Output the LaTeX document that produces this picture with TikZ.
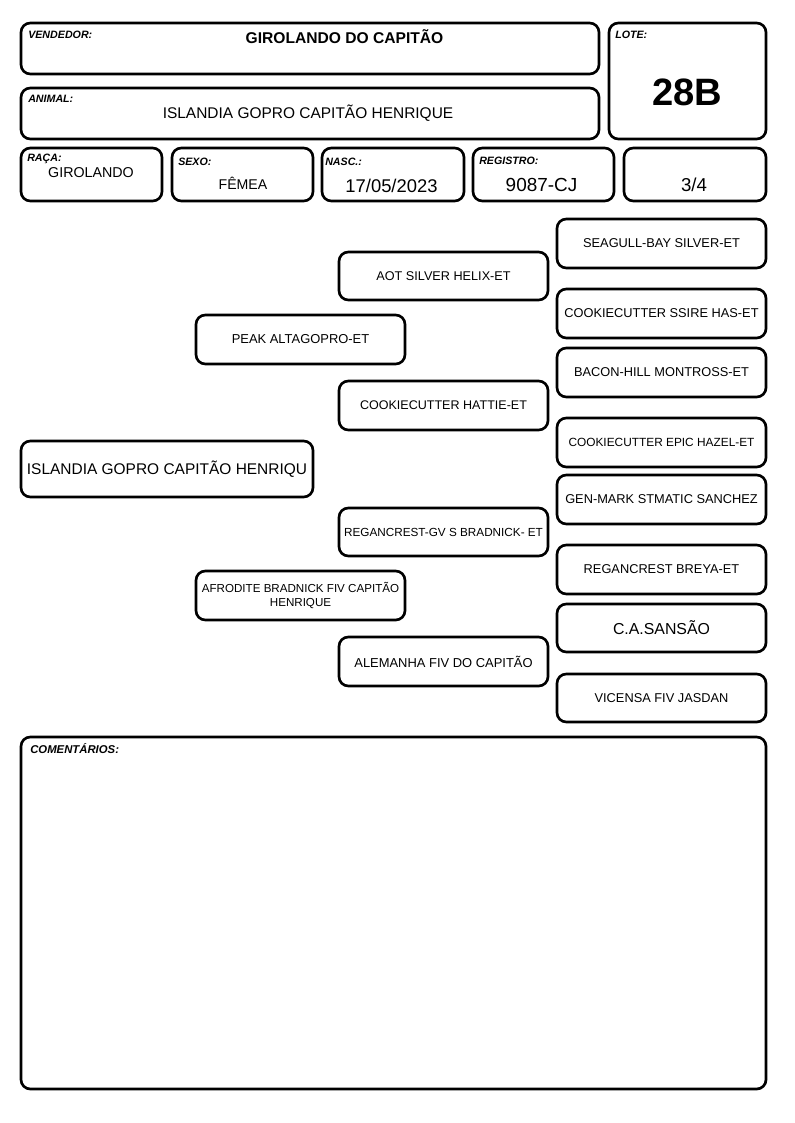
\documentclass[tikz,border=0pt]{standalone}
\usepackage{fontspec}
\setmainfont{Liberation Sans}
\begin{document}
\begin{tikzpicture}[x=0.75pt,y=-0.75pt,
  box/.style={draw=black, line width=2pt, rounded corners=7pt, inner sep=0pt, align=center},
  wh/.style 2 args={minimum width=#1*0.75pt, minimum height=#2*0.75pt},
  lbl/.style={font=\bfseries\itshape\fontsize{8}{9}\selectfont, inner sep=0pt, anchor=base west},
  val/.style={inner sep=0pt, anchor=base},
  ped/.style={font=\fontsize{9.6}{11}\selectfont}]
\useasboundingbox (0,0) rectangle (794,1123);
% header boxes
\node[box, wh={578}{51}] (vend) at (310,48.5) {};
\node[box, wh={578}{51}] (anim) at (310,113.5) {};
\node[box, wh={157}{116}] (lote) at (687.5,81) {};
\node[box, wh={141}{53}] (raca) at (91.5,174.5) {};
\node[box, wh={141}{53}] (sexo) at (242.5,174.5) {};
\node[box, wh={142}{53}] (nasc) at (393,174.5) {};
\node[box, wh={141}{53}] (regi) at (543.5,174.5) {};
\node[box, wh={142}{53}] (grau) at (695,174.5) {};
% header labels
\node[lbl] (vendl) at (28,39) {VENDEDOR:};
\node[lbl] (animl) at (28,103) {ANIMAL:};
\node[lbl] (lotel) at (615,39) {LOTE:};
\node[lbl] (racal) at (27,162) {RAÇA:};
\node[lbl] (sexol) at (178,165.5) {SEXO:};
\node[lbl] (nascl) at (325,165.5) {NASC.:};
\node[lbl] (regil) at (479,165) {REGISTRO:};
% header values
\node[val, font=\bfseries\fontsize{11.7}{13}\selectfont] (vendv) at (344.5,43.5) {GIROLANDO DO CAPITÃO};
\node[val, font=\fontsize{11.6}{13}\selectfont] (animv) at (308,119) {ISLANDIA GOPRO CAPITÃO HENRIQUE};
\node[val, font=\bfseries\fontsize{28.6}{32}\selectfont] (lotev) at (687,106) {28B};
\node[val, font=\fontsize{10.7}{12}\selectfont] (racav) at (91,178) {GIROLANDO};
\node[val, font=\fontsize{10.6}{12}\selectfont] (sexov) at (243,189.5) {FÊMEA};
\node[val, font=\fontsize{13.8}{15}\selectfont] (nascv) at (391.5,192.5) {17/05/2023};
\node[val, font=\fontsize{14.2}{15}\selectfont] (regiv) at (541.5,192) {9087-CJ};
\node[val, font=\fontsize{14}{15}\selectfont] (grauv) at (694,192) {3/4};
% pedigree
\node[box, wh={292}{56}, font=\fontsize{11.6}{13}\selectfont] (p0) at (167,469) {ISLANDIA GOPRO CAPITÃO HENRIQU};
\node[box, wh={209}{49}, font=\fontsize{9.7}{11}\selectfont] (p1) at (300.5,339.5) {PEAK ALTAGOPRO-ET};
\node[box, wh={209}{49}, font=\fontsize{8.7}{10.5}\selectfont] (p2) at (300.5,595.5) {AFRODITE BRADNICK FIV CAPITÃO\\HENRIQUE};
\node[box, wh={209}{48}, font=\fontsize{9.5}{11}\selectfont] (p11) at (443.5,276) {AOT SILVER HELIX-ET};
\node[box, wh={209}{49}, font=\fontsize{9.4}{11}\selectfont] (p12) at (443.5,405.5) {COOKIECUTTER HATTIE-ET};
\node[box, wh={209}{48}, font=\fontsize{8.8}{11}\selectfont] (p21) at (443.5,532) {REGANCREST-GV S BRADNICK- ET};
\node[box, wh={209}{49}, font=\fontsize{9.7}{11}\selectfont] (p22) at (443.5,661.5) {ALEMANHA FIV DO CAPITÃO};
\node[box, ped, wh={209}{49}] (p111) at (661.5,243.5) {SEAGULL-BAY SILVER-ET};
\node[box, ped, wh={209}{49}] (p112) at (661.5,313.5) {COOKIECUTTER SSIRE HAS-ET};
\node[box, ped, wh={209}{49}] (p121) at (661.5,372.5) {BACON-HILL MONTROSS-ET};
\node[box, wh={209}{49}, font=\fontsize{8.9}{11}\selectfont] (p122) at (661.5,442.5) {COOKIECUTTER EPIC HAZEL-ET};
\node[box, ped, wh={209}{49}] (p211) at (661.5,499.5) {GEN-MARK STMATIC SANCHEZ};
\node[box, ped, wh={209}{49}] (p212) at (661.5,569.5) {REGANCREST BREYA-ET};
\node[box, wh={209}{48}, font=\fontsize{11.9}{13}\selectfont] (p221) at (661.5,628) {C.A.SANSÃO};
\node[box, ped, wh={209}{48}] (p222) at (661.5,698) {VICENSA FIV JASDAN};
% comments
\node[box, wh={745}{352}] (coment) at (393.5,913) {};
\node[lbl, font=\bfseries\itshape\fontsize{8.5}{10}\selectfont] (comentl) at (30,753) {COMENTÁRIOS:};
\end{tikzpicture}
\end{document}
